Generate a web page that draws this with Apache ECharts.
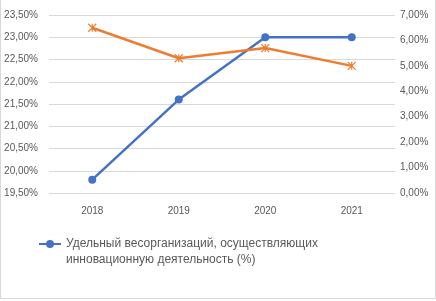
<!DOCTYPE html>
<html>
<head>
<meta charset="utf-8">
<script src="https://cdn.jsdelivr.net/npm/echarts@6/dist/echarts.min.js"></script>
<style>
	html, body { margin: 0; padding: 0; background: #fff; }
	#draw { width: 434px; height: 298px; border: 1px solid #d9d9d9; border-top: none; }
</style>
</head>
<body>
<div id="draw"></div>
<script>
// данные
var years = ['2018', '2019', '2020', '2021'];
var shareOrg = [19.8, 21.6, 23.0, 23.0];
var secondSeries = [6.5, 5.3, 5.7, 5.0];
var shareName = 'Удельный весорганизаций, осуществляющих\nинновационную деятельность (%)';

var pct = function(v) {
	return v.toFixed(2).replace('.', ',') + '%';
};

var star = 'path://M0,0L10,10M10,0L0,10M5,0L5,10';

var myChart = echarts.init(document.getElementById('draw'));
var option = {
	animation : false,
	textStyle : {
		fontFamily : 'Liberation Sans'
	},
	grid : {
		left : 48,
		right : 40,
		top : 15,
		bottom : 105
	},
	legend : {
		data : [ shareName ],
		left : 32,
		top : 215,
		itemWidth : 22,
		itemHeight : 10,
		// пустая первая строка, чтобы значок стоял у первой строки текста
		formatter : function(name) {
			return '\n' + name;
		},
		textStyle : {
			color : '#595959',
			fontSize : 12,
			lineHeight : 16
		}
	},
	xAxis : {
		type : 'category',
		data : years,
		axisLine : { show : false },
		axisTick : { show : false },
		axisLabel : {
			color : '#595959',
			fontSize : 10,
			margin : 13
		}
	},
	yAxis : [ {
		type : 'value',
		min : 19.5,
		max : 23.5,
		interval : 0.5,
		axisLabel : {
			color : '#595959',
			fontSize : 10,
			margin : 11,
			formatter : pct
		},
		splitLine : {
			lineStyle : { color : '#d9d9d9' }
		}
	}, {
		type : 'value',
		min : 0,
		max : 7,
		interval : 1,
		position : 'right',
		axisLabel : {
			color : '#595959',
			fontSize : 10,
			margin : 5,
			formatter : pct
		},
		splitLine : { show : false }
	} ],
	series : [ {
		name : shareName,
		type : 'line',
		data : shareOrg,
		yAxisIndex : 0,
		symbol : 'circle',
		symbolSize : 8,
		color : '#4472C4',
		lineStyle : { width : 2.5 }
	}, {
		name : 'second',
		type : 'line',
		data : secondSeries,
		yAxisIndex : 1,
		symbol : star,
		symbolSize : 8,
		color : '#ED7D31',
		itemStyle : { color : '#ED7D31', borderColor : '#ED7D31', borderWidth : 1.2 },
		lineStyle : { width : 2.5 }
	} ]
};
myChart.setOption(option);
</script>
</body>
</html>
